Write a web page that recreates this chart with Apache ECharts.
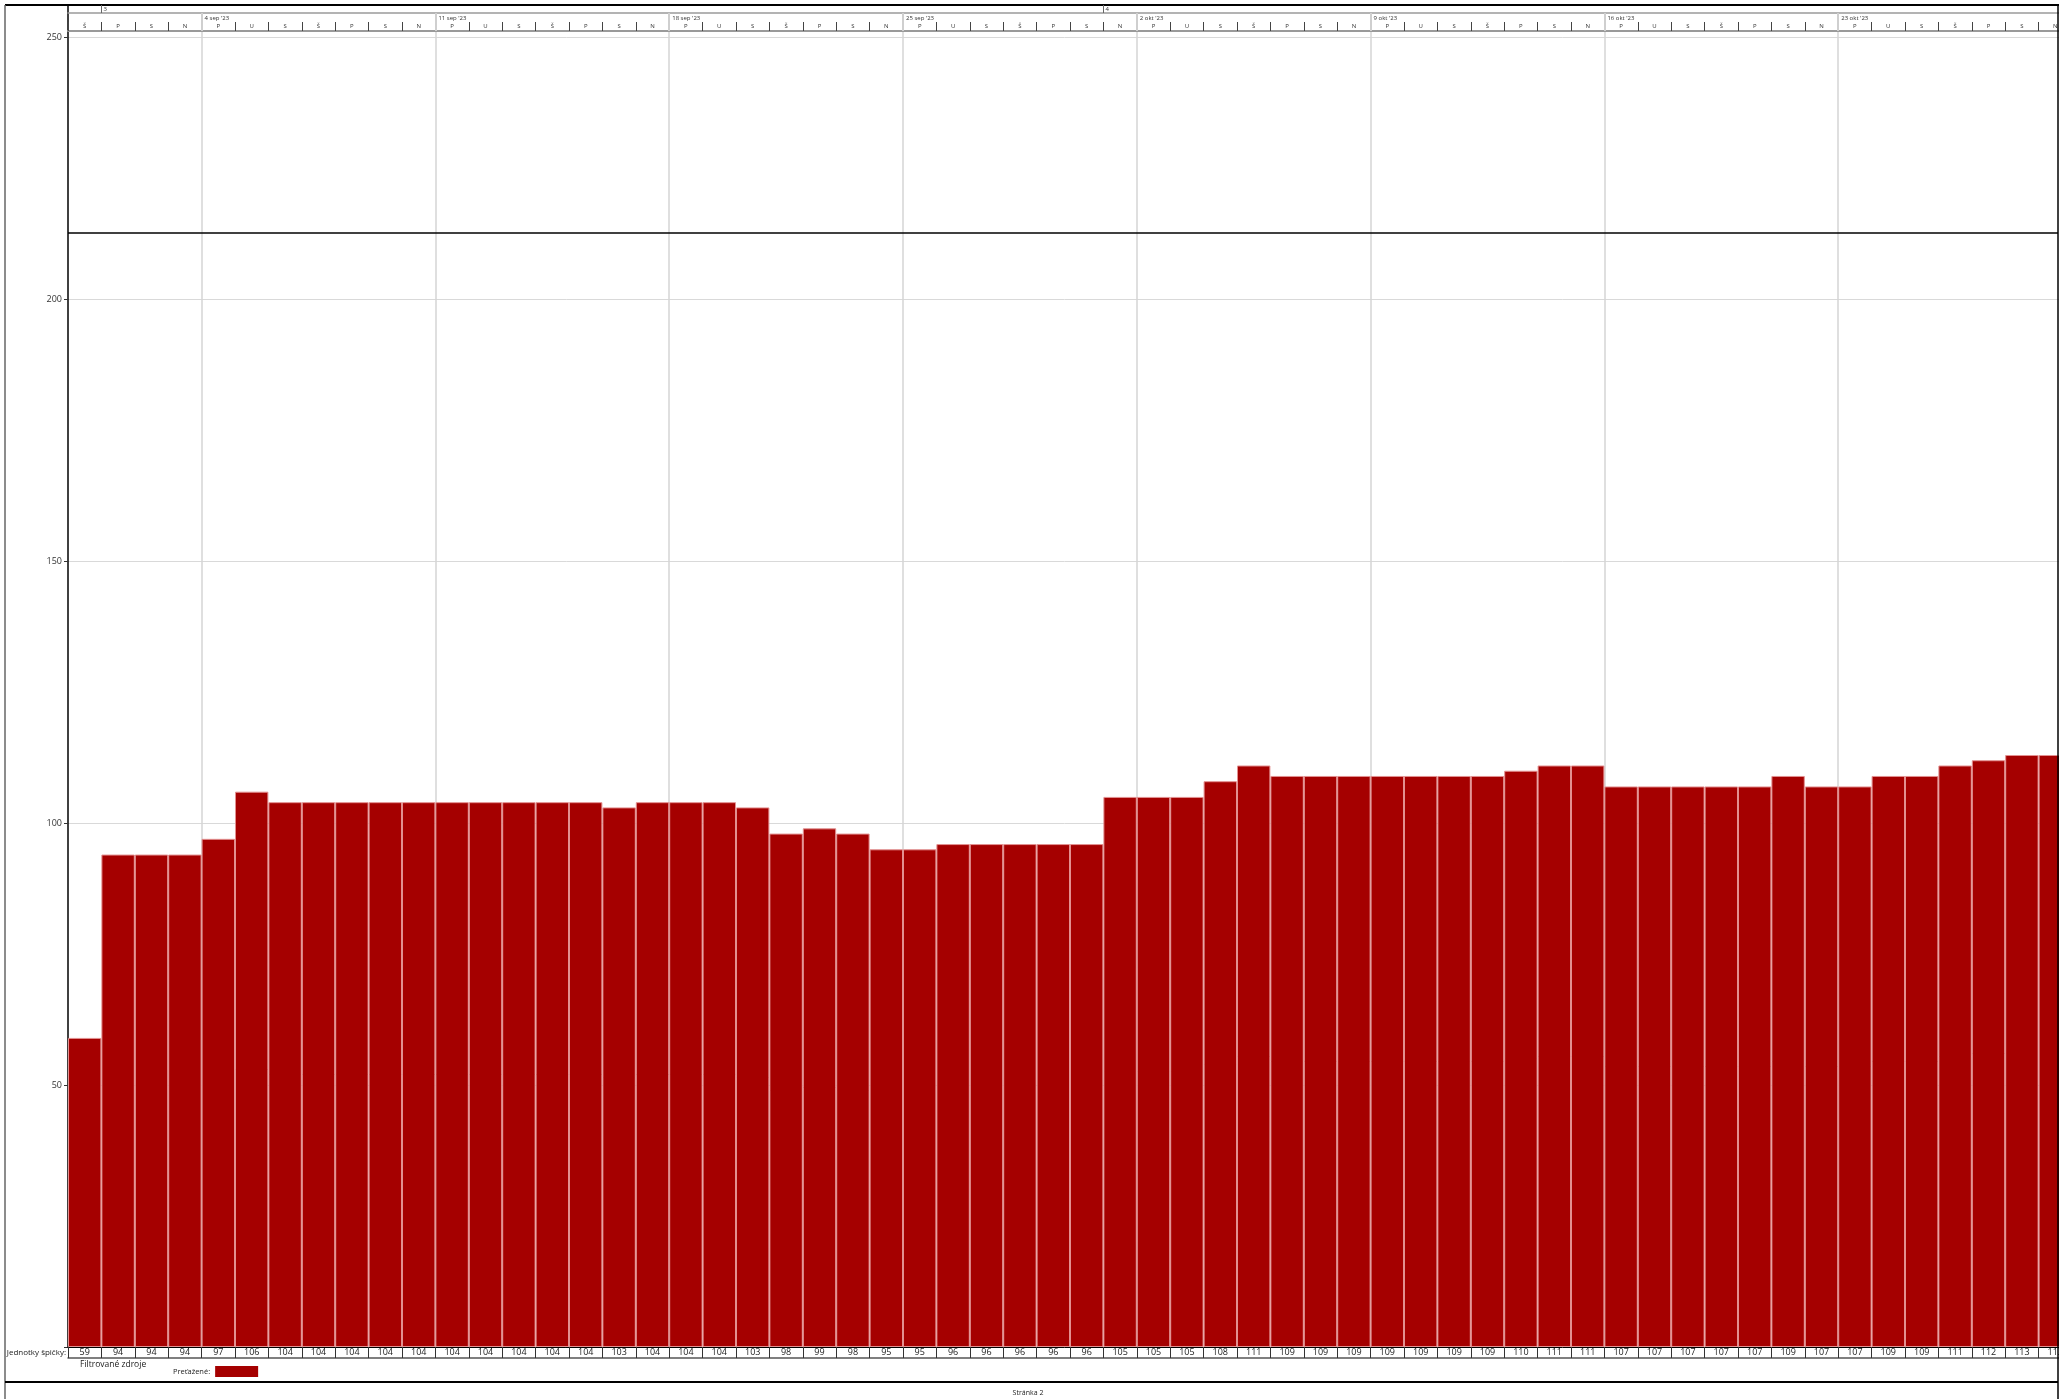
<!DOCTYPE html>
<html>
<head>
<meta charset="utf-8">
<script src="https://cdn.jsdelivr.net/npm/echarts@6/dist/echarts.min.js"></script>
<style>
  html, body { margin: 0; padding: 0; background: #fff; }
  #chart { width: 2060px; height: 1399px; }
</style>
</head>
<body>
<div id="chart"></div>
<script>
// peak units per day, 31 Aug 2023 .. 29 Oct 2023
var peakUnits = [59, 94, 94, 94, 97, 106, 104, 104, 104, 104, 104, 104, 104, 104, 104, 104,
  103, 104, 104, 104, 103, 98, 99, 98, 95, 95, 96, 96, 96, 96, 96,
  105, 105, 105, 108, 111, 109, 109, 109, 109, 109, 109, 109, 110, 111, 111,
  107, 107, 107, 107, 107, 109, 107, 107, 109, 109, 111, 112, 113, 113];

// Mon..Sun (Slovak), first column is a Thursday
var weekDays = ['P', 'U', 'S', 'Š', 'P', 'S', 'N'];
var firstDayOffset = 3;

var weekStarts = [4, 11, 18, 25, 32, 39, 46, 53];
var weekLabels = ["4 sep '23", "11 sep '23", "18 sep '23", "25 sep '23",
  "2 okt '23", "9 okt '23", "16 okt '23", "23 okt '23"];

var monthStarts = [1, 31];
var monthLabels = ['3', '4'];

var yTicks = { min: 0, max: 251.2, interval: 50 };

var barColor = '#a50000';
var font = 'Open Sans';

var days = peakUnits.map(function (v, i) { return String(i); });
var dayLetters = days.map(function (d, i) { return weekDays[(i + firstDayOffset) % 7]; });
var bounds = [];
for (var b = 0; b <= days.length; b++) bounds.push(String(b));

var chart = echarts.init(document.getElementById('chart'));

var option = {
  animation: false,
  textStyle: { fontFamily: font },
  grid: { left: 68, width: 2004, top: 31, bottom: 52, containLabel: false, outerBoundsMode: 'none' },
  legend: {
    data: ['Preťažené:'],
    left: 168, top: 1361,
    align: 'right',
    icon: 'rect',
    itemWidth: 43, itemHeight: 11,
    itemStyle: { borderWidth: 0 },
    textStyle: { fontFamily: font, fontSize: 7.5, color: '#222' }
  },
  xAxis: [
    { // value row under the bars
      type: 'category', data: days, position: 'bottom', offset: 0, z: 3,
      axisLine: { lineStyle: { color: '#000', width: 1 } },
      axisTick: { show: true, length: 11, lineStyle: { color: '#333' } },
      axisLabel: {
        interval: 0, margin: 1, fontSize: 9, color: '#222', fontFamily: font,
        backgroundColor: '#fff', padding: [0, 3, 0, 3],
        formatter: function (v, i) { return String(peakUnits[i]); }
      },
      splitLine: { show: false }
    },
    { // underline of value row
      type: 'category', data: days, position: 'bottom', offset: 11, z: 1,
      axisLine: { lineStyle: { color: '#555', width: 1.5 } },
      axisTick: { show: false }, axisLabel: { show: false }, splitLine: { show: false }
    },
    { // day letters
      type: 'category', data: days, position: 'top', offset: 0,
      axisLine: { lineStyle: { color: '#9a9a9a', width: 2 } },
      axisTick: { show: true, length: 9, lineStyle: { color: '#444' } },
      axisLabel: {
        interval: 0, margin: 2, fontSize: 6, color: '#333', fontFamily: font,
        formatter: function (v, i) { return dayLetters[i]; }
      },
      splitLine: { show: false }
    },
    { // weeks
      type: 'category', data: bounds, boundaryGap: false, position: 'top', offset: 18,
      axisLine: { lineStyle: { color: '#9a9a9a', width: 1.5 } },
      axisTick: {
        show: true, inside: true, length: 18,
        interval: function (i) { return weekStarts.indexOf(i) >= 0; },
        lineStyle: { color: '#cfcfcf', width: 2 }
      },
      axisLabel: {
        inside: true, margin: 2, fontSize: 6, color: '#333', align: 'left',
        fontFamily: font, padding: [0, 0, 0, 3],
        interval: function (i) { return weekStarts.indexOf(i) >= 0; },
        formatter: function (v, i) {
          var k = weekStarts.indexOf(Number(v));
          return k >= 0 ? weekLabels[k] : '';
        }
      },
      splitLine: {
        show: true,
        interval: function (i) { return weekStarts.indexOf(i) >= 0; },
        lineStyle: { color: '#d4d4d4', width: 1.5 }
      }
    },
    { // months
      type: 'category', data: bounds, boundaryGap: false, position: 'top', offset: 26,
      axisLine: { lineStyle: { color: '#000', width: 2 } },
      axisTick: {
        show: true, inside: true, length: 8,
        interval: function (i) { return monthStarts.indexOf(i) >= 0; },
        lineStyle: { color: '#666' }
      },
      axisLabel: {
        inside: true, margin: 1, fontSize: 6, color: '#333', align: 'left',
        fontFamily: font, padding: [0, 0, 0, 2],
        interval: function (i) { return monthStarts.indexOf(i) >= 0; },
        formatter: function (v) {
          var k = monthStarts.indexOf(Number(v));
          return k >= 0 ? monthLabels[k] : '';
        }
      },
      splitLine: { show: false }
    }
  ],
  yAxis: {
    type: 'value', min: yTicks.min, max: yTicks.max, interval: yTicks.interval,
    axisLine: { show: true, lineStyle: { color: '#000', width: 1.5 } },
    axisTick: { show: true, length: 4, lineStyle: { color: '#333' } },
    axisLabel: {
      margin: 6, fontSize: 9, color: '#333', fontFamily: font,
      formatter: function (v) { return v === 0 ? '' : String(v); }
    },
    splitLine: { lineStyle: { color: '#d9d9d9', width: 1 } }
  },
  series: [{
    name: 'Preťažené:',
    type: 'bar',
    xAxisIndex: 0,
    data: peakUnits,
    barCategoryGap: '0%',
    itemStyle: { color: barColor, borderColor: '#e39090', borderWidth: 1 }
  }],
  graphic: [
    { type: 'line', shape: { x1: 5, y1: 5, x2: 2058, y2: 5 }, style: { stroke: '#000', lineWidth: 2 } },
    { type: 'line', shape: { x1: 5, y1: 5, x2: 5, y2: 1399 }, style: { stroke: '#666', lineWidth: 1.5 } },
    { type: 'rect', shape: { x: 2059, y: 0, width: 20, height: 1399 }, style: { fill: '#fff' }, z: 20 },
    { type: 'line', shape: { x1: 2058, y1: 5, x2: 2058, y2: 1399 }, style: { stroke: '#000', lineWidth: 1.5 }, z: 21 },
    { type: 'line', shape: { x1: 5, y1: 1382, x2: 2058, y2: 1382 }, style: { stroke: '#000', lineWidth: 2 } },
    { type: 'line', shape: { x1: 68, y1: 5, x2: 68, y2: 31 }, style: { stroke: '#000', lineWidth: 1.5 } },
    { type: 'line', shape: { x1: 68, y1: 233, x2: 2058, y2: 233 }, style: { stroke: '#000', lineWidth: 1.5 }, z: 10 },
    { type: 'text', x: 66, y: 1353, z: 10,
      style: { text: 'Jednotky špičky:', fontFamily: font, fontSize: 8, fill: '#222', align: 'right', verticalAlign: 'middle' } },
    { type: 'text', x: 80, y: 1365, z: 10,
      style: { text: 'Filtrované zdroje', fontFamily: font, fontSize: 8.5, fill: '#222', align: 'left', verticalAlign: 'middle' } },
    { type: 'text', x: 1028, y: 1393, z: 10,
      style: { text: 'Stránka 2', fontFamily: font, fontSize: 7, fill: '#222', align: 'center', verticalAlign: 'middle' } }
  ]
};

chart.setOption(option);
</script>
</body>
</html>
